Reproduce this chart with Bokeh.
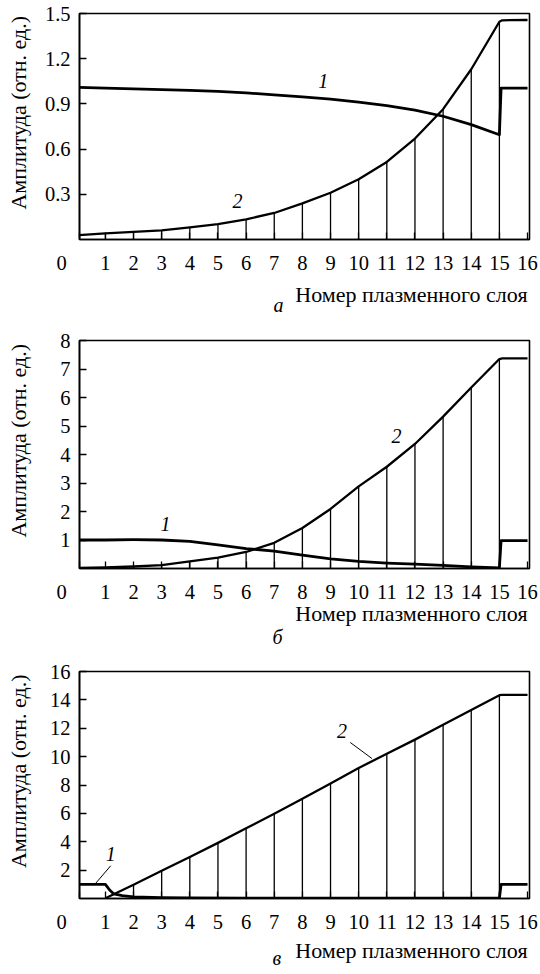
from bokeh.plotting import figure
from bokeh.models import FixedTicker, Label, Range1d, Title
from bokeh.layouts import column
from bokeh.embed import file_html
from bokeh.resources import INLINE

FONT = "Liberation Serif"
TICK_FS = "20.5px"
LAB_FS = "22px"

# ---------------- data ----------------
layers = list(range(16))                      # plasma layer numbers 0..15
x_ticks = list(range(1, 17))

y_label_text = "Амплитуда (отн. ед.)"
x_label_text = "Номер плазменного слоя"

# panel а
a_c1_x = layers + [15.06, 16]
a_c1_y = [1.01, 1.005, 1.0, 0.995, 0.99, 0.983, 0.973, 0.96, 0.947, 0.932,
          0.912, 0.888, 0.858, 0.818, 0.762, 0.695, 1.005, 1.005]
a_c2_x = layers + [15.1, 16]
a_c2_y = [0.028, 0.041, 0.05, 0.061, 0.08, 0.102, 0.134, 0.176, 0.24, 0.31,
          0.40, 0.515, 0.67, 0.865, 1.13, 1.445, 1.455, 1.457]
a_y_ticks = [0.3, 0.6, 0.9, 1.2, 1.5]

# panel б
b_c1_x = layers + [15.06, 16]
b_c1_y = [1.0, 1.0, 1.01, 1.0, 0.95, 0.83, 0.7, 0.61, 0.47, 0.34,
          0.25, 0.19, 0.15, 0.11, 0.06, 0.02, 0.98, 0.98]
b_c2_x = layers + [15.1, 16]
b_c2_y = [0.02, 0.04, 0.07, 0.12, 0.25, 0.38, 0.58, 0.9, 1.42, 2.09,
          2.88, 3.57, 4.37, 5.33, 6.35, 7.35, 7.37, 7.37]
b_y_ticks = [1, 2, 3, 4, 5, 6, 7, 8]

# panel в
c_c1_x = [0, 1, 1.15, 1.3, 1.6, 2, 3, 4, 6, 8, 10, 12, 14, 15, 15.06, 16]
c_c1_y = [1.0, 1.0, 0.6, 0.32, 0.2, 0.12, 0.06, 0.04, 0.03, 0.02,
          0.02, 0.02, 0.02, 0.02, 1.0, 1.0]
c_c2_x = layers[1:] + [15.1, 16]
c_c2_y = [0.02, 0.97, 1.95, 2.93, 3.92, 4.95, 5.97, 7.03, 8.1, 9.2,
          10.2, 11.2, 12.25, 13.28, 14.33, 14.35, 14.35]
c_y_ticks = [2, 4, 6, 8, 10, 12, 14, 16]

panels = [
    dict(h=330, top=13, bottom=91, yend=1.5, yt=a_y_ticks,
         c1x=a_c1_x, c1y=a_c1_y, c2x=a_c2_x, c2y=a_c2_y,
         drop_x=layers[1:], drop_y=a_c2_y[1:16],
         lab1=(8.74, 1.05), lab2=(5.69, 0.255), leaders=[],
         ylab_so=11, xlab_so=11, sub="а", sub_off=194, sub_so=-41),
    dict(h=330, top=10, bottom=92, yend=8, yt=b_y_ticks,
         c1x=b_c1_x, c1y=b_c1_y, c2x=b_c2_x, c2y=b_c2_y,
         drop_x=layers[1:], drop_y=b_c2_y[1:16],
         lab1=(3.14, 1.57), lab2=(11.34, 4.66), leaders=[],
         ylab_so=26, xlab_so=-9, sub="б", sub_off=193, sub_so=5),
    dict(h=314, top=11, bottom=76, yend=16, yt=c_y_ticks,
         c1x=c_c1_x, c1y=c_c1_y, c2x=c_c2_x, c2y=c_c2_y,
         drop_x=layers[1:], drop_y=c_c2_y[0:15],
         lab1=(1.19, 3.15), lab2=(9.41, 11.82),
         leaders=[((1.19, 0.65), (2.31, 1.06)), ((9.7, 10.47), (11.0, 9.87))],
         ylab_so=16, xlab_so=4, sub="в", sub_off=193, sub_so=-39),
]


def safe_set(obj, name, val, fallback):
    try:
        setattr(obj, name, val)
    except Exception:
        setattr(obj, name, fallback)


X0, X1 = 0.08, 16.07
NBSP = "\u00a0"
figs = []
for P in panels:
    p = figure(width=540, height=P["h"], output_backend="svg", toolbar_location=None,
               title=None, x_range=Range1d(X0, X1), y_range=Range1d(0, P["yend"]),
               min_border_left=79, min_border_right=11,
               min_border_top=P["top"], min_border_bottom=P["bottom"],
               background_fill_color="white", border_fill_color="white")
    p.xgrid.visible = False
    p.ygrid.visible = False
    p.outline_line_color = "black"
    p.outline_line_width = 1.6
    for ax in (p.xaxis[0], p.yaxis[0]):
        ax.axis_line_color = "black"
        ax.axis_line_width = 1.6
        ax.major_tick_line_color = "black"
        ax.major_tick_line_width = 1.3
        ax.major_tick_in = 7
        ax.major_tick_out = 0
        ax.minor_tick_line_color = None
        ax.major_label_text_font = FONT
        ax.major_label_text_font_size = TICK_FS
        ax.major_label_text_color = "black"
        ax.axis_label_text_font = FONT
        ax.axis_label_text_font_size = LAB_FS
        ax.axis_label_text_font_style = "normal"
        ax.axis_label_text_color = "black"

    # x axis: origin "0" sits left of the frame corner, layers 1..16 below their ticks
    p.xaxis.ticker = FixedTicker(ticks=[X0] + x_ticks)
    p.xaxis.major_label_overrides = {X0: "0" + NBSP * 7}
    p.xaxis.major_label_standoff = 12
    p.yaxis.ticker = FixedTicker(ticks=P["yt"])
    p.yaxis.major_label_standoff = 9

    # y axis title (leading no-break spaces lift it toward the top of the frame)
    ya = p.yaxis[0]
    ya.axis_label = NBSP * 5 + y_label_text
    ya.axis_label_standoff = P["ylab_so"]

    # x axis title, right aligned under the frame
    xt = Title(text=x_label_text, align="right", offset=2, vertical_align="top",
               text_font=FONT, text_font_size=LAB_FS, text_font_style="normal",
               text_color="black")
    safe_set(xt, "standoff", P["xlab_so"], 0)
    p.add_layout(xt, "below")

    # panel letter
    t = Title(text=P["sub"], align="left", offset=P["sub_off"], vertical_align="top",
              text_font=FONT, text_font_size="20px", text_font_style="italic",
              text_color="black")
    safe_set(t, "standoff", P["sub_so"], 0)
    p.add_layout(t, "below")

    # drop lines from axis up to curve 2
    p.segment(x0=P["drop_x"], y0=[0] * len(P["drop_x"]), x1=P["drop_x"], y1=P["drop_y"],
              line_color="black", line_width=1.3)
    # curves
    p.line(P["c2x"], P["c2y"], line_color="black", line_width=2.3, line_join="round")
    p.line(P["c1x"], P["c1y"], line_color="black", line_width=2.8, line_join="round")
    for (xs, ys) in P["leaders"]:
        p.line(list(xs), list(ys), line_color="black", line_width=1.0)

    for txt, (lx, ly) in (("1", P["lab1"]), ("2", P["lab2"])):
        p.add_layout(Label(x=lx, y=ly, text=txt, text_font=FONT, text_font_size="20px",
                           text_font_style="italic", text_align="center",
                           text_baseline="middle", text_color="black"))
    figs.append(p)

layout = column(*figs, spacing=0)
open("out.html", "w").write(file_html(layout, INLINE))
